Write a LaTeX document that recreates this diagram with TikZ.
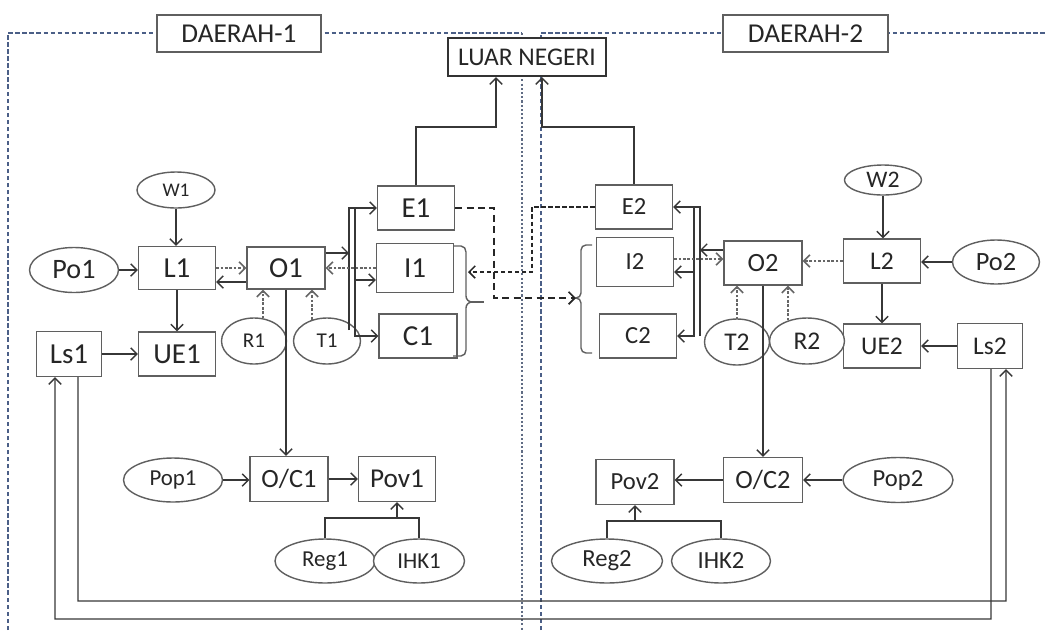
\documentclass[tikz,border=0pt]{standalone}
\usepackage{fontspec}
\setmainfont{Carlito}
\usetikzlibrary{shapes.geometric,arrows.meta,calc}
\definecolor{boxc}{RGB}{95,95,95}
\definecolor{linec}{RGB}{55,55,55}
\definecolor{regc}{RGB}{75,95,135}
\begin{document}
\begin{tikzpicture}[x=0.02cm,y=-0.02cm,
  every node/.style={inner sep=0pt, text=black!85},
  f/.style={font=\fontsize{#1}{#1}\selectfont},
  bx/.style 2 args={draw=boxc, line width=0.8pt, fill=white, rectangle, minimum width=#1*0.02cm, minimum height=#2*0.02cm},
  el/.style 2 args={draw=boxc, line width=0.8pt, fill=white, ellipse, minimum width=#1*0.02cm, minimum height=#2*0.02cm},
  line/.style={draw=linec, line width=0.8pt},
  arr/.style={line, -{Straight Barb[length=3.5pt,width=7pt]}},
  dotarr/.style={arr, draw=gray!80!black, line width=0.9pt, dash pattern=on 1.5pt off 1pt},
  dasharr/.style={arr, draw=black!85, line width=1pt, dash pattern=on 4pt off 2.5pt},
  dasharrb/.style={arr, draw=black!85, line width=0.9pt, dash pattern=on 2.5pt off 1.5pt},
  region/.style={draw=regc, line width=0.9pt, dash pattern=on 2.5pt off 1.5pt},
  brace/.style={line, draw=boxc}
]
\useasboundingbox (0,0) rectangle (1046,630);
% regions
\draw[region] (8,630) -- (8,33) -- (522,33);
\draw[region, draw=regc!60!gray, dash pattern=on 1.2pt off 1.2pt] (522,33) -- (522,630);
\draw[region] (541,630) -- (541,33) -- (1046,33);
% titles
\node[bx={164}{37}, f=15.5] (D1) at (239,33.5) {DAERAH-1};
\node[bx={165}{37}, f=15.5] (D2) at (805.5,33.5) {DAERAH-2};
\node[bx={158}{38}, f=14.5, line width=1.4pt, draw=black!80] (LN) at (527,57) {LUAR NEGERI};
% left boxes
\node[bx={77}{43},f=16.5] (L1) at (177,268) {L1};
\node[bx={78}{42},f=16.5] (O1) at (286,268) {O1};
\node[bx={77}{44},f=16.5] (E1) at (416,208) {E1};
\node[bx={77}{49},f=16.5] (I1) at (415,268) {I1};
\node[bx={78}{44},f=16.5] (C1) at (418,336) {C1};
\node[bx={65}{45},f=16.5] (Ls1) at (69,354) {Ls1};
\node[bx={77}{44},f=16.5] (UE1) at (177,354) {UE1};
\node[bx={78}{45},f=15] (OC1) at (289,479) {O/C1};
\node[bx={77}{45},f=15.5] (Pov1) at (397,479) {Pov1};
\node[el={78}{36},f=11] (W1) at (176,190) {W1};
\node[el={89}{45},f=16] (Po1) at (74,270) {Po1};
\node[el={65}{46},f=12] (R1) at (254,341) {R1};
\node[el={67}{46},f=12] (T1) at (327,341) {T1};
\node[el={99}{44},f=13] (Pop1) at (173,480) {Pop1};
\node[el={100}{44},f=13] (Reg1) at (325,561) {Reg1};
\node[el={91}{44},f=13] (IHK1) at (419,561) {IHK1};
% right boxes
\node[bx={77}{44},f=14.5] (L2) at (882,261) {L2};
\node[bx={78}{44},f=15] (O2) at (763,263) {O2};
\node[bx={77}{44},f=14] (E2) at (634,207) {E2};
\node[bx={77}{49},f=14] (I2) at (635,262) {I2};
\node[bx={77}{44},f=14] (C2) at (638,336) {C2};
\node[bx={77}{44},f=14.5] (UE2) at (882,346) {UE2};
\node[bx={65}{45},f=14.5] (Ls2) at (990,346) {Ls2};
\node[bx={78}{45},f=14] (Pov2) at (635,482) {Pov2};
\node[bx={79}{45},f=15] (OC2) at (763,480) {O/C2};
\node[el={77}{30},f=13.5] (W2) at (883,180) {W2};
\node[el={87}{44},f=15] (Po2) at (996,262) {Po2};
\node[el={65}{46},f=14.5] (T2) at (737,342) {T2};
\node[el={75}{46},f=14.5] (R2) at (807,341) {R2};
\node[el={110}{45},f=14] (Pop2) at (898,480) {Pop2};
\node[el={111}{44},f=14] (Reg2) at (607,561) {Reg2};
\node[el={99}{44},f=14] (IHK2) at (721,561) {IHK2};
% bus coordinates
\coordinate (bl1) at (349,0);
\coordinate (bl2) at (355,0);
\coordinate (br1) at (694,0);
\coordinate (br2) at (700,0);
\coordinate (tip1) at (472,302);
\coordinate (tip2) at (576,298);
% left connectors
\draw[arr] (W1.south) -- (W1.south |- L1.north);
\draw[arr] (Po1.east) -- (Po1.east -| L1.west);
\draw[dotarr] (L1.east) -- (O1.west);
\draw[arr] (O1.west |- 0,282) -- (L1.east |- 0,282);
\draw[arr] (L1.south) -- (UE1.north);
\draw[arr] (Ls1.east) -- (UE1.west);
\draw[dotarr] ([xshift=0.18cm,yshift=-0.02cm]R1.north) -- ([xshift=0.18cm]R1.north |- O1.south);
\draw[dotarr] ([xshift=-0.3cm,yshift=-0.05cm]T1.north) -- ([xshift=-0.3cm]T1.north |- O1.south);
\draw[arr] (O1.south) -- (O1.south |- OC1.north);
\draw[arr] (O1.east |- 0,253) -- (bl1 |- 0,253);
\draw[arr] (bl1 |- 0,330) -- (bl1 |- E1.west) -- (E1.west);
\draw[arr] (bl2 |- E1.west) -- (bl2 |- C1.west) -- (C1.west);
\draw[arr] (bl2 |- 0,280) -- (I1.west |- 0,280);
\draw[dotarr] (I1.west) -- (O1.east);
\draw[arr] (E1.north) |- ([xshift=-0.62cm]LN.south |- 0,127) -- ([xshift=-0.62cm]LN.south);
% left brace
\draw[brace] (453,246) -- (461,246) to[out=0,in=90] (466,252) -- (466,296) to[out=-90,in=180] (tip1) to[out=180,in=90] (466,308) -- (466,350) to[out=-90,in=0] (461,356) -- (453,356);
\draw[brace] (tip1) -- ++(12,0);
% right brace
\draw[brace] (592,245) -- (586,245) to[out=180,in=90] (581,250) -- (581,293) to[out=-90,in=0] (tip2) to[out=0,in=90] (581,303) -- (581,348) to[out=-90,in=180] (586,353) -- (592,353);
% dashed exchange
\draw[dasharr] (E1.east) -- (494,208) -- (494,298) -- (tip2);
\draw[dasharrb] (E2.west) -- (532,207) -- (532,272) -- (468,272);
% right connectors
\draw[arr] (W2.south) -- (W2.south |- L2.north);
\draw[arr] (Po2.west) -- (Po2.west -| L2.east);
\draw[dotarr] (L2.west) -- (L2.west -| O2.east);
\draw[arr] (L2.south) -- (UE2.north);
\draw[arr] (Ls2.west) -- (UE2.east);
\draw[dotarr] ([yshift=-0.02cm]T2.north) -- (T2.north |- O2.south);
\draw[dotarr] ([xshift=-0.38cm,yshift=-0.06cm]R2.north) -- ([xshift=-0.38cm]R2.north |- O2.south);
\draw[arr] (O2.south) -- (O2.south |- OC2.north);
\draw[arr] (O2.west |- 0,250) -- (br2 |- 0,250);
\draw[arr] (br2 |- C2.east) -- (br2 |- E2.east) -- (E2.east);
\draw[arr] (br1 |- E2.east) -- (br1 |- C2.east) -- (C2.east);
\draw[arr] (br1 |- 0,272) -- (I2.east |- 0,272);
\draw[dotarr] (I2.east |- 0,259) -- (O2.west |- 0,259);
\draw[arr] (E2.north) |- ([xshift=0.3cm]LN.south |- 0,127) -- ([xshift=0.3cm]LN.south);
% bottom
\draw[arr] (Pop1.east) -- (Pop1.east -| OC1.west);
\draw[arr] (OC1.east) -- (Pov1.west);
\draw[line] (Reg1.north) |- (IHK1.north |- 0,518) -- (IHK1.north);
\draw[arr] (Pov1.south |- 0,518) -- (Pov1.south);
\draw[arr] (Pop2.west) -- (Pop2.west -| OC2.east);
\draw[arr] (OC2.west) -- (OC2.west -| Pov2.east);
\draw[line] (Reg2.north) |- (IHK2.north |- 0,521) -- (IHK2.north);
\draw[arr] (Pov2.south |- 0,521) -- (Pov2.south);
% feedback loops
\draw[arr] ([xshift=0.18cm]Ls1.south) |- (1006,601) -- ([xshift=0.32cm]Ls2.south);
\draw[arr] ([xshift=0.02cm]Ls2.south) |- (55,619) -- ([xshift=-0.28cm]Ls1.south);
\end{tikzpicture}
\end{document}
